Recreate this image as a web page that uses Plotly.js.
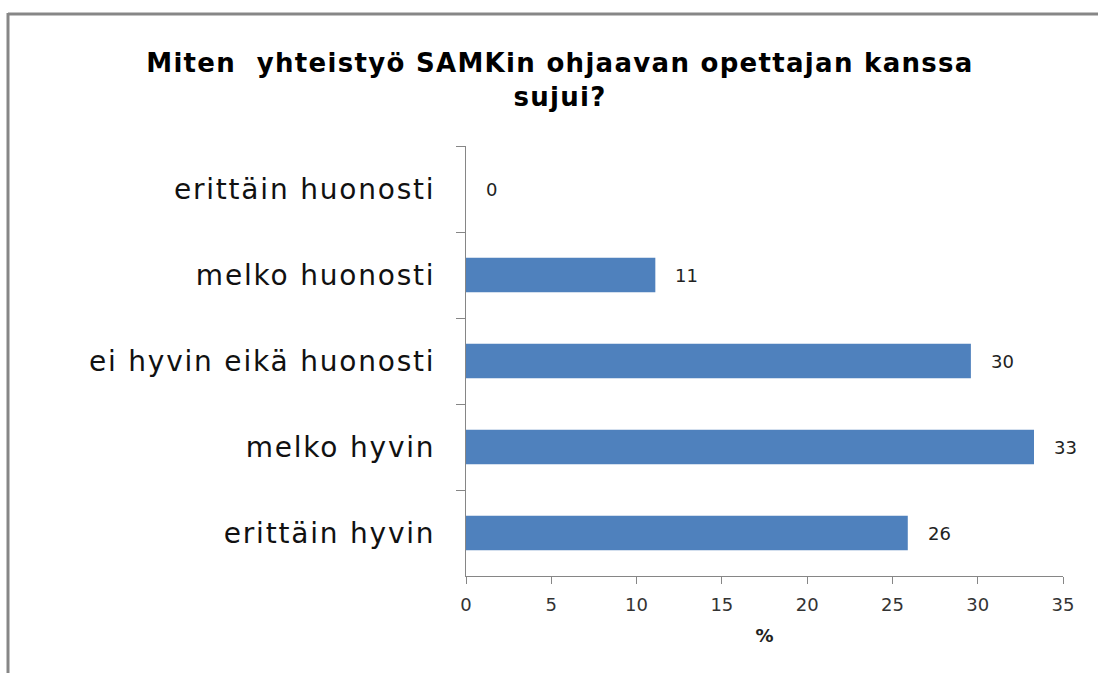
<!DOCTYPE html>
<html>
<head>
<meta charset="utf-8">
<script src="https://cdn.plot.ly/plotly-3.0.1.min.js"></script>
<style>
html,body{margin:0;padding:0;background:#fff;}
#chart{width:1098px;height:673px;}
.ytick text{letter-spacing:1.8px;}
.gtitle{letter-spacing:1.3px;}
</style>
</head>
<body>
<div id="chart"></div>
<script>
const categories = ["erittäin huonosti", "melko huonosti", "ei hyvin eikä huonosti", "melko hyvin", "erittäin hyvin"];
const values = [0, 11.1, 29.6, 33.3, 25.9];
const xTicks = [0, 5, 10, 15, 20, 25, 30, 35];
const titleText = "Miten  yhteistyö SAMKin ohjaavan opettajan kanssa<br>sujui?";
const xTitle = "%";

const trace = {
  type: "bar",
  orientation: "h",
  x: values,
  y: categories,
  marker: {color: "#4f81bd", line: {width: 0}},
  hoverinfo: "x+y"
};

const annotations = values.map((v, i) => ({
  x: v, y: categories[i], xref: "x", yref: "y",
  text: String(Math.round(v)),
  showarrow: false, xanchor: "left", xshift: 18,
  font: {family: "DejaVu Sans", size: 18, color: "#222"}
}));

const layout = {
  width: 1098, height: 673,
  margin: {l: 466, r: 35, t: 146, b: 97},
  paper_bgcolor: "#fff", plot_bgcolor: "#fff",
  showlegend: false,
  bargap: 0.6,
  title: {
    text: titleText,
    font: {family: "DejaVu Sans", size: 26, color: "#000", weight: "bold"},
    x: 0.51, xref: "container", xanchor: "center",
    y: 1 - 72/673, yref: "container", yanchor: "middle"
  },
  xaxis: {
    range: [0, 35],
    tickvals: xTicks,
    ticktext: xTicks.map(String),
    ticks: "outside", ticklen: 7, tickcolor: "#868686", tickwidth: 1,
    showline: true, linecolor: "#868686", linewidth: 1,
    showgrid: false, zeroline: false,
    ticklabelstandoff: 5,
    tickfont: {family: "DejaVu Sans", size: 18, color: "#333"},
    title: {text: xTitle, font: {family: "DejaVu Sans", size: 18, color: "#222", weight: "bold"}, standoff: 15},
    fixedrange: true
  },
  yaxis: {
    autorange: "reversed",
    type: "category",
    tickson: "boundaries",
    ticks: "outside", ticklen: 9, tickcolor: "#868686", tickwidth: 1,
    showline: true, linecolor: "#868686", linewidth: 1,
    showgrid: false, zeroline: false,
    tickfont: {family: "DejaVu Sans", size: 28, color: "#111"},
    ticklabelstandoff: 24,
    fixedrange: true
  },
  annotations: annotations,
  shapes: [
    {type: "line", xref: "paper", yref: "paper", x0: (8-466)/597, x1: 1.1, y0: (576-14)/430, y1: (576-14)/430, line: {color: "#878787", width: 3}},
    {type: "line", xref: "paper", yref: "paper", x0: (8-466)/597, x1: (8-466)/597, y0: (576-13)/430, y1: -0.3, line: {color: "#878787", width: 3}}
  ]
};

Plotly.newPlot("chart", [trace], layout, {displayModeBar: false, staticPlot: true});
</script>
</body>
</html>
